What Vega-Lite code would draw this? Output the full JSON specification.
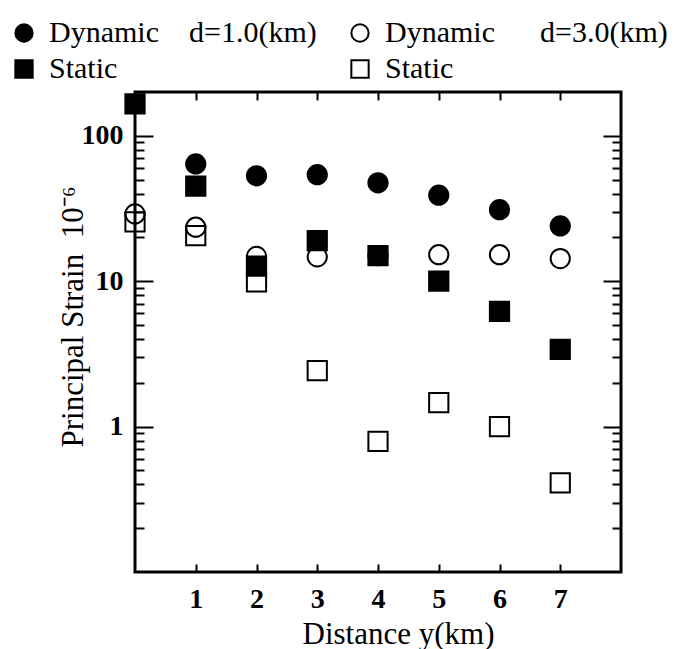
{
  "$schema": "https://vega.github.io/schema/vega-lite/v6.json",
  "width": 486,
  "height": 480,
  "autosize": {"type": "none"},
  "padding": {"left": 135, "top": 92, "right": 72, "bottom": 77},
  "background": "white",
  "config": {
    "view": {"stroke": "black", "strokeWidth": 3},
    "axis": {
      "grid": false,
      "domain": false,
      "labelFont": "Liberation Serif",
      "titleFont": "Liberation Serif",
      "labelColor": "black",
      "titleColor": "black",
      "tickColor": "black",
      "tickWidth": 2
    },
    "legend": {
      "orient": "none", "direction": "horizontal", "legendX": -126, "legendY": -74, "columns": 2, "columnPadding": 28, "rowPadding": 6,
      "labelFont": "Liberation Serif", "labelFontSize": 30, "labelColor": "black", "labelLimit": 500,
      "symbolSize": 300, "symbolStrokeColor": "black", "symbolStrokeWidth": 2, "labelOffset": 10, "padding": 0
    }
  },
  "data": {
    "values": [
      {"series": "Dynamic d=3.0", "distance": 0, "strain": 29},
      {"series": "Dynamic d=3.0", "distance": 1, "strain": 23.5},
      {"series": "Dynamic d=3.0", "distance": 2, "strain": 14.8},
      {"series": "Dynamic d=3.0", "distance": 3, "strain": 14.7},
      {"series": "Dynamic d=3.0", "distance": 4, "strain": 15},
      {"series": "Dynamic d=3.0", "distance": 5, "strain": 15.2},
      {"series": "Dynamic d=3.0", "distance": 6, "strain": 15.2},
      {"series": "Dynamic d=3.0", "distance": 7, "strain": 14.3},
      {"series": "Static d=3.0", "distance": 0, "strain": 25.6},
      {"series": "Static d=3.0", "distance": 1, "strain": 20.6},
      {"series": "Static d=3.0", "distance": 2, "strain": 9.9},
      {"series": "Static d=3.0", "distance": 3, "strain": 2.43},
      {"series": "Static d=3.0", "distance": 4, "strain": 0.79},
      {"series": "Static d=3.0", "distance": 5, "strain": 1.46},
      {"series": "Static d=3.0", "distance": 6, "strain": 1.0},
      {"series": "Static d=3.0", "distance": 7, "strain": 0.41},
      {"series": "Dynamic d=1.0", "distance": 1, "strain": 64},
      {"series": "Dynamic d=1.0", "distance": 2, "strain": 53},
      {"series": "Dynamic d=1.0", "distance": 3, "strain": 54},
      {"series": "Dynamic d=1.0", "distance": 4, "strain": 47.5},
      {"series": "Dynamic d=1.0", "distance": 5, "strain": 39},
      {"series": "Dynamic d=1.0", "distance": 6, "strain": 31},
      {"series": "Dynamic d=1.0", "distance": 7, "strain": 24},
      {"series": "Static d=1.0", "distance": 0, "strain": 166},
      {"series": "Static d=1.0", "distance": 1, "strain": 45},
      {"series": "Static d=1.0", "distance": 2, "strain": 12.7},
      {"series": "Static d=1.0", "distance": 3, "strain": 19},
      {"series": "Static d=1.0", "distance": 4, "strain": 15},
      {"series": "Static d=1.0", "distance": 5, "strain": 10},
      {"series": "Static d=1.0", "distance": 6, "strain": 6.2},
      {"series": "Static d=1.0", "distance": 7, "strain": 3.4}
    ]
  },
  "layer": [
    {
      "mark": {"type": "point", "opacity": 0},
      "encoding": {
        "x": {"field": "distance", "type": "quantitative", "scale": {"domain": [0, 8], "nice": false, "zero": false},
              "axis": {"orient": "bottom", "values": [1, 2, 3, 4, 5, 6, 7], "tickSize": -8, "labels": false, "title": null}},
        "y": {"field": "strain", "type": "quantitative", "scale": {"type": "log", "domain": [0.1, 200], "nice": false},
              "axis": {"orient": "left", "values": [1, 10, 100], "tickSize": -18, "labels": false, "title": null}}
      }
    },
    {
      "mark": {"type": "point", "opacity": 0},
      "encoding": {
        "x": {"field": "distance", "type": "quantitative", "scale": {"domain": [0, 8], "nice": false, "zero": false},
              "axis": {"orient": "top", "values": [1, 2, 3, 4, 5, 6, 7], "tickSize": -8, "labels": false, "title": null}},
        "y": {"field": "strain", "type": "quantitative", "scale": {"type": "log", "domain": [0.1, 200], "nice": false},
              "axis": {"orient": "left", "values": [0.2, 0.3, 0.4, 0.5, 0.6, 0.7, 0.8, 0.9, 2, 3, 4, 5, 6, 7, 8, 9, 20, 30, 40, 50, 60, 70, 80, 90], "tickSize": -9, "labels": false, "title": null}}
      }
    },
    {
      "mark": {"type": "point", "opacity": 0},
      "encoding": {
        "x": {"field": "distance", "type": "quantitative", "scale": {"domain": [0, 8], "nice": false, "zero": false}, "axis": null},
        "y": {"field": "strain", "type": "quantitative", "scale": {"type": "log", "domain": [0.1, 200], "nice": false},
              "axis": {"orient": "right", "values": [1, 10, 100], "tickSize": -18, "labels": false, "title": null}}
      }
    },
    {
      "mark": {"type": "point", "opacity": 0},
      "encoding": {
        "x": {"field": "distance", "type": "quantitative", "scale": {"domain": [0, 8], "nice": false, "zero": false}, "axis": null},
        "y": {"field": "strain", "type": "quantitative", "scale": {"type": "log", "domain": [0.1, 200], "nice": false},
              "axis": {"orient": "right", "values": [0.2, 0.3, 0.4, 0.5, 0.6, 0.7, 0.8, 0.9, 2, 3, 4, 5, 6, 7, 8, 9, 20, 30, 40, 50, 60, 70, 80, 90], "tickSize": -9, "labels": false, "title": null}}
      }
    },
    {
      "mark": {"type": "point", "filled": false, "strokeWidth": 2, "opacity": 1, "size": 370},
      "encoding": {
        "x": {"field": "distance", "type": "quantitative", "scale": {"domain": [0, 8], "nice": false, "zero": false},
              "axis": {"orient": "bottom", "values": [1, 2, 3, 4, 5, 6, 7], "format": "d", "ticks": false,
                       "labelPadding": 35, "labelBaseline": "alphabetic", "labelFontSize": 28, "labelFontWeight": "bold",
                       "title": "Distance y(km)", "titleFontSize": 31, "titleFontWeight": "normal",
                       "titleX": 167, "titleY": 71, "titleAlign": "left", "titleBaseline": "alphabetic"}},
        "y": {"field": "strain", "type": "quantitative", "scale": {"type": "log", "domain": [0.1, 200], "nice": false},
              "axis": {"orient": "left", "values": [1, 10, 100], "format": "d", "ticks": false,
                       "labelPadding": 12, "labelFontSize": 28, "labelFontWeight": "bold", "labelBaseline": "middle",
                       "title": "Principal Strain\u00a0\u00a010\u207b\u2076", "titleFontSize": 31, "titleFontWeight": "normal",
                       "titleAngle": -90, "titleX": -53, "titleY": 355, "titleAlign": "left", "titleBaseline": "alphabetic"}},
        "shape": {"field": "series", "type": "nominal",
                  "scale": {"domain": ["Dynamic d=1.0", "Dynamic d=3.0", "Static d=1.0", "Static d=3.0"], "range": ["circle", "circle", "square", "square"]},
                  "legend": {"title": null,
                             "labelExpr": "datum.label == 'Dynamic d=1.0' ? 'Dynamic\u00a0\u00a0\u00a0\u00a0d=1.0(km)' : datum.label == 'Dynamic d=3.0' ? 'Dynamic\u00a0\u00a0\u00a0\u00a0\u00a0\u00a0d=3.0(km)' : 'Static'"}},
        "fill": {"field": "series", "type": "nominal",
                 "scale": {"domain": ["Dynamic d=1.0", "Dynamic d=3.0", "Static d=1.0", "Static d=3.0"], "range": ["black", "transparent", "black", "transparent"]},
                 "legend": {"title": null,
                            "labelExpr": "datum.label == 'Dynamic d=1.0' ? 'Dynamic\u00a0\u00a0\u00a0\u00a0d=1.0(km)' : datum.label == 'Dynamic d=3.0' ? 'Dynamic\u00a0\u00a0\u00a0\u00a0\u00a0\u00a0d=3.0(km)' : 'Static'"}},
        "stroke": {"field": "series", "type": "nominal",
                   "scale": {"domain": ["Dynamic d=1.0", "Dynamic d=3.0", "Static d=1.0", "Static d=3.0"], "range": ["black", "black", "black", "black"]},
                   "legend": {"title": null,
                              "labelExpr": "datum.label == 'Dynamic d=1.0' ? 'Dynamic\u00a0\u00a0\u00a0\u00a0d=1.0(km)' : datum.label == 'Dynamic d=3.0' ? 'Dynamic\u00a0\u00a0\u00a0\u00a0\u00a0\u00a0d=3.0(km)' : 'Static'"}}
      }
    }
  ],
  "resolve": {"axis": {"x": "independent", "y": "independent"}}
}
